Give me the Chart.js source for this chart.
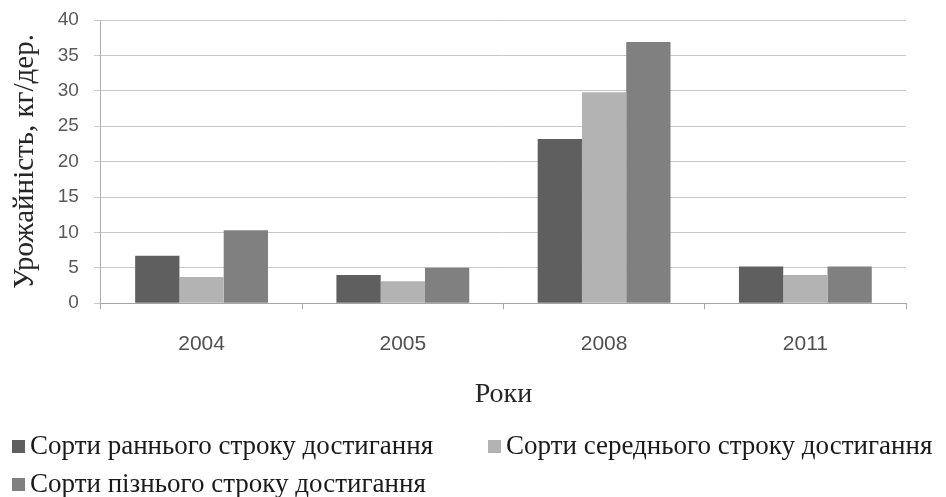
<!DOCTYPE html>
<html>
<head>
<meta charset="utf-8">
<script src="https://cdn.jsdelivr.net/npm/chart.js@4/dist/chart.umd.min.js"></script>
<style>
  html, body { margin: 0; padding: 0; background: #ffffff; }
  #wrap { width: 946px; height: 497px; position: relative; }
</style>
</head>
<body>
<div id="wrap"><canvas id="chart" width="946" height="497"></canvas></div>
<script>
// Роки спостережень
const years = ['2004', '2005', '2008', '2011'];

// Урожайність, кг/дер.
const earlyVarieties = [6.7, 4.0, 23.2, 5.2];
const midVarieties   = [3.7, 3.1, 29.8, 4.0];
const lateVarieties  = [10.3, 5.0, 36.9, 5.2];

const seriesNames = [
  'Сорти раннього строку достигання',
  'Сорти середнього строку достигання',
  'Сорти пізнього строку достигання'
];

const yTicks = [0, 5, 10, 15, 20, 25, 30, 35, 40];

const colors = ['#5f5f5f', '#b3b3b3', '#808080'];

// Legend drawn under the chart: two items on the first row, one on the second
const bottomLegend = {
  id: 'bottomLegend',
  afterDraw(chart) {
    const ctx = chart.ctx;
    const slots = [
      { x: 12, y: 447 },
      { x: 488, y: 447 },
      { x: 12, y: 485 }
    ];
    ctx.save();
    ctx.font = '27px "Liberation Serif"';
    ctx.textBaseline = 'middle';
    chart.data.datasets.forEach((ds, i) => {
      const s = slots[i];
      ctx.fillStyle = ds.backgroundColor;
      ctx.fillRect(s.x, s.y - 7, 13, 13);
      ctx.fillStyle = '#1a1a1a';
      ctx.fillText(ds.label, s.x + 18, s.y);
    });
    ctx.restore();
  }
};

new Chart(document.getElementById('chart'), {
  type: 'bar',
  data: {
    labels: years,
    datasets: [
      { label: seriesNames[0], data: earlyVarieties, backgroundColor: colors[0] },
      { label: seriesNames[1], data: midVarieties,   backgroundColor: colors[1] },
      { label: seriesNames[2], data: lateVarieties,  backgroundColor: colors[2] }
    ]
  },
  options: {
    responsive: false,
    animation: false,
    devicePixelRatio: 1,
    layout: { padding: { top: 20, right: 40, bottom: 80, left: 8 } },
    datasets: { bar: { categoryPercentage: 0.66, barPercentage: 1.0 } },
    plugins: { legend: { display: false }, tooltip: { enabled: false } },
    scales: {
      x: {
        grid: { drawOnChartArea: false, tickLength: 6, color: '#a6a6a6', offset: true },
        border: { color: '#a6a6a6' },
        ticks: { padding: 22, color: '#505050', font: { family: 'Liberation Sans', size: 21 } },
        title: {
          display: true, text: 'Роки', color: '#262626',
          font: { family: 'Liberation Serif', size: 28 },
          padding: { top: -1, bottom: 6 }
        }
      },
      y: {
        min: 0, max: 40,
        afterBuildTicks(axis) { axis.ticks = yTicks.map(v => ({ value: v })); },
        // the top label may overhang the plot; keep the plot top at the layout padding
        afterFit(axis) { axis.paddingTop = 0; },
        grid: { color: '#c8c8c8', tickLength: 7 },
        border: { color: '#b0b0b0' },
        ticks: { padding: 15, color: '#595959', font: { family: 'Liberation Sans', size: 19 } },
        title: {
          display: true, text: 'Урожайність, кг/дер.', color: '#262626',
          font: { family: 'Liberation Serif', size: 29 },
          padding: { top: 0, bottom: 0 }
        }
      }
    }
  },
  plugins: [bottomLegend]
});
</script>
</body>
</html>
